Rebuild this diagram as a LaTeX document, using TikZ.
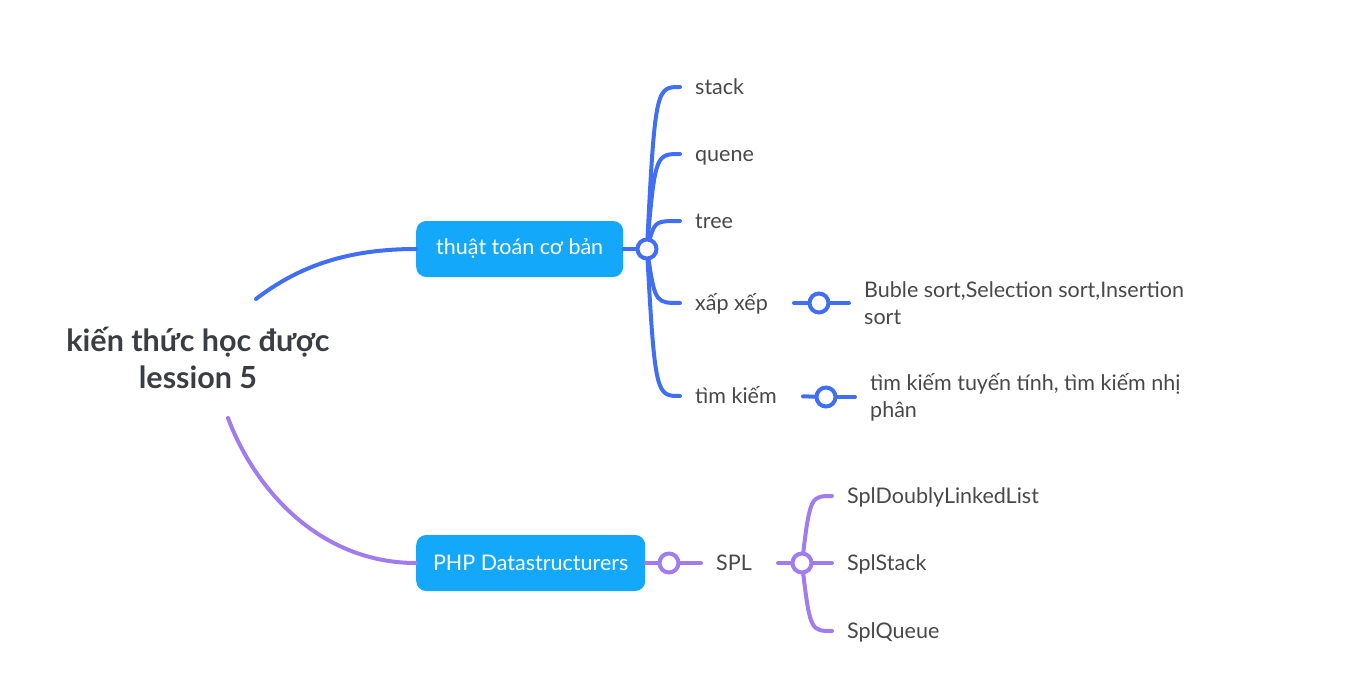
\documentclass[tikz,border=0pt]{standalone}
\usepackage{fontspec}
\setmainfont{Lato}
\usetikzlibrary{positioning,calc}

\definecolor{branchblue}{RGB}{64,110,245}
\definecolor{branchpurple}{RGB}{160,124,238}
\definecolor{boxblue}{RGB}{20,168,250}
\definecolor{leafgray}{RGB}{72,72,72}
\definecolor{rootgray}{RGB}{58,62,68}

\tikzset{
    topicbox/.style={fill=boxblue, rounded corners=10pt, text=white, anchor=west,
        font=\fontsize{21.5}{26}\selectfont, minimum height=56pt, inner xsep=16pt},
    hubdot/.style={circle, draw, fill=white, line width=4pt, minimum size=19pt, inner sep=0pt},
    leaf/.style={text=leafgray, font=\fontsize{21.5}{27}\selectfont, anchor=west,
        inner xsep=15pt, inner ysep=2pt, align=left},
    oneline/.style={leaf, text height=15pt, text depth=0pt},
    link/.style={line width=4pt, line cap=round},
}

\begin{document}
\begin{tikzpicture}[x=1pt, y=-1pt]
    \useasboundingbox (0,0) rectangle (1353,698);

    % Root
    \node[font=\bfseries\fontsize{30.5}{37}\selectfont, text=rootgray, align=center] (root) at (198,358) {kiến thức học được\\lession 5};
    \coordinate (rootup) at (256,299);
    \coordinate (rootdown) at (228,418);

    % Topics
    \node[topicbox, minimum width=207pt] (algo) at (416,249) {thuật toán cơ bản};
    \node[topicbox, minimum width=229pt] (php) at (416,563) {PHP Datastructurers};
    \draw[link, branchblue] (rootup) .. controls (300,265) and (350,249) .. (algo.west);
    \draw[link, branchpurple] (rootdown) .. controls (255,490) and (320,563) .. (php.west);

    % Blue branch
    \node[hubdot, draw=branchblue] (hubA) at (647,249) {};
    \draw[link, branchblue] (algo.east) -- (hubA);
    \node[oneline] (stack) at (680,87) {stack};
    \node[oneline] (quene) at (680,154) {quene};
    \node[oneline] (tree) at (680,221) {tree};
    \node[oneline] (sorting) at (680,303) {xấp xếp};
    \node[oneline] (search) at (680,396) {tìm kiếm};
    \foreach \leafname/\ty in {stack/87, quene/154, tree/221, sorting/303, search/396}
        \draw[link, branchblue] (hubA) .. controls (655,\ty) and (657,\ty) .. (\leafname.west);

    \node[hubdot, draw=branchblue] (hubB) at (819,303) {};
    \node[leaf] (sortlist) at (849,303) {Buble sort,Selection sort,Insertion\\sort};
    \draw[link, branchblue, shorten <=11pt] (sorting.east) -- (hubB);
    \draw[link, branchblue] (hubB) -- (sortlist.west);

    \node[hubdot, draw=branchblue] (hubC) at (826,397) {};
    \node[leaf] (searchlist) at (855,397) {tìm kiếm tuyến tính, tìm kiếm nhị\\phân};
    \draw[link, branchblue, shorten <=11pt] (search.east) -- (hubC);
    \draw[link, branchblue] (hubC) -- (searchlist.west);

    % Purple branch
    \node[hubdot, draw=branchpurple] (hubD) at (669,563) {};
    \draw[link, branchpurple] (php.east) -- (hubD);
    \node[oneline] (spl) at (701,563) {SPL};
    \draw[link, branchpurple] (hubD) -- (spl.west);

    \node[hubdot, draw=branchpurple] (hubE) at (802,563) {};
    \draw[link, branchpurple, shorten <=11pt] (spl.east) -- (hubE);
    \node[oneline] (linked) at (832,496) {SplDoublyLinkedList};
    \node[oneline] (splstack) at (832,563) {SplStack};
    \node[oneline] (splqueue) at (832,631) {SplQueue};
    \foreach \leafname/\ty in {linked/496, splqueue/631}
        \draw[link, branchpurple] (hubE) .. controls (810,\ty) and (812,\ty) .. (\leafname.west);
    \draw[link, branchpurple] (hubE) -- (splstack.west);
\end{tikzpicture}
\end{document}
